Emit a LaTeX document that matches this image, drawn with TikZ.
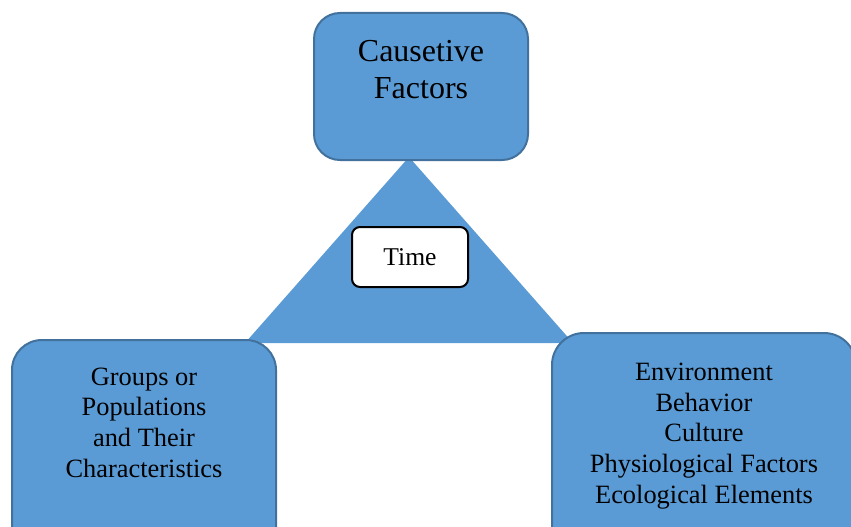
\documentclass[tikz,border=0pt]{standalone}
\usepackage{fontspec}
\setmainfont{Liberation Serif}
\usepackage{tikz}
\definecolor{boxblue}{HTML}{5B9BD5}
\definecolor{boxedge}{HTML}{41719C}

\begin{document}
\begin{tikzpicture}[x=1pt, y=-1pt,
  bluebox/.style={draw=boxedge, line width=2pt, fill=boxblue, rounded corners=26pt, inner sep=0pt},
  boxtext/.style={align=center, inner sep=0pt, font=\fontsize{26.4}{30.6}\selectfont}]

  \useasboundingbox (0,0) rectangle (851,527);
  \clip (0,0) rectangle (851,527);

  %% the triangle sits behind the three boxes
  \fill[boxblue] (409,157) coordinate (apex) -- (573,343) coordinate (rcorner)
    -- (245,343) coordinate (lcorner) -- cycle;

  %% top box
  \node[bluebox, minimum width=214pt, minimum height=147pt] (cause) at (421,86.5) {};
  \node[boxtext, font=\fontsize{32}{37}\selectfont] (causetxt) at (421,70) {Causetive\\Factors};

  %% bottom left box
  \node[bluebox, rounded corners=30pt, minimum width=264pt, minimum height=220pt] (groups) at (144,450) {};
  \node[boxtext] (groupstxt) at (144,422.5) {Groups or\\Populations\\and Their\\Characteristics};

  %% bottom right box
  \node[bluebox, rounded corners=32pt, minimum width=304pt, minimum height=226pt] (env) at (704,446) {};
  \node[boxtext] (envtxt) at (704,436) {Environment\\Behavior\\Culture\\Physiological Factors\\Ecological Elements};

  %% time in the middle of the triangle
  \node[draw=black, line width=2pt, fill=white, rounded corners=8pt, minimum width=116pt,
    minimum height=60pt, inner sep=0pt, font=\fontsize{25.6}{30}\selectfont] (time) at (410,257) {Time};

\end{tikzpicture}
\end{document}
